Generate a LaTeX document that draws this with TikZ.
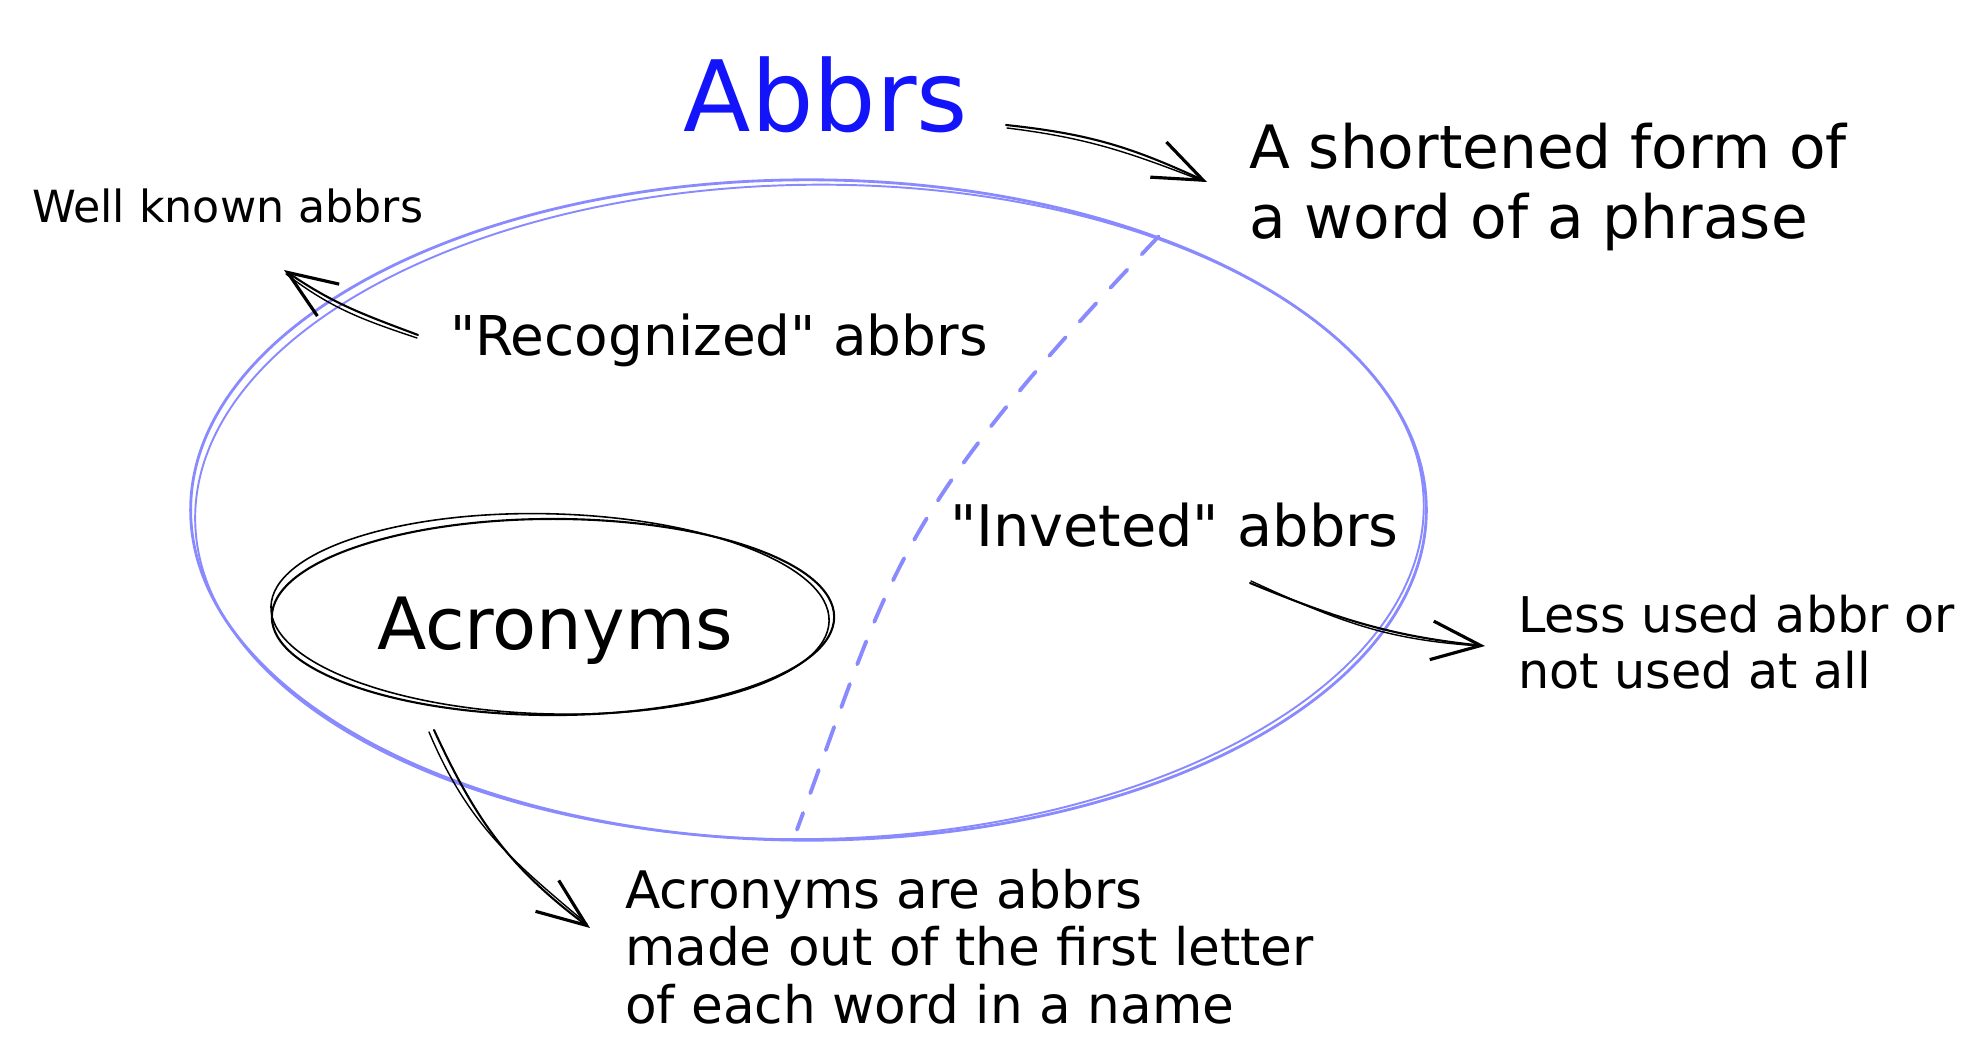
\documentclass[tikz,border=0pt]{standalone}
\usepackage{fontspec}
\setmainfont{DejaVu Sans}
\usetikzlibrary{arrows.meta,shapes.geometric,calc}
\definecolor{penblue}{RGB}{20,20,250}
\definecolor{lavender}{RGB}{138,138,255}
\begin{document}
\begin{tikzpicture}[x=0.01cm,y=-0.01cm,
  txt/.style={inner sep=0pt, outer sep=0pt, text=black},
  pen/.style={draw=black, line width=0.6pt, line cap=round, line join=round},
  pentwo/.style={draw=black, line width=0.4pt, line cap=round},
  barb/.style={-{Straight Barb[length=14pt,width=11pt,line width=0.9pt]}},
  ring/.style={draw=lavender, line width=0.8pt},
  ringtwo/.style={draw=lavender, line width=0.55pt},
  divider/.style={draw=lavender, line width=1.1pt, line cap=round, dash pattern=on 7pt off 6pt}
]
\useasboundingbox (0,0) rectangle (1982,1061);

% ---- outer set: all abbreviations ----
\node[ellipse, ring, minimum width=12.35cm, minimum height=6.6cm, inner sep=0pt] (big) at (808.5,510) {};
\draw[ringtwo, rotate around={0.8:(big.center)}] ($(big.center)+(1,2)$) ellipse [x radius=6.14cm, y radius=3.27cm];

% ---- inner set: acronyms ----
\node[ellipse, draw=black, line width=0.6pt, minimum width=5.62cm, minimum height=1.96cm, inner sep=0pt] (acro) at (553,617) {};
\draw[black, line width=0.45pt, rotate around={-1.5:(acro.center)}] ($(acro.center)+(-3,-3)$) ellipse [x radius=2.79cm, y radius=1.0cm];

% ---- texts ----
\node[txt, anchor=base, text=penblue, font=\fontsize{28}{34}\selectfont] (title) at (826,132) {Abbrs};
\node[txt, anchor=north west, align=left, font=\fontsize{17}{20}\selectfont] (defn) at (1249,123) {A shortened form of\\a word of a phrase};
\node[txt, anchor=base west, font=\fontsize{12.6}{15}\selectfont] (well) at (32,223) {Well known abbrs};
\node[txt, anchor=base west, font=\fontsize{15.6}{19}\selectfont] (recog) at (450,356) {\textquotedbl Recognized\textquotedbl{} abbrs};
\node[txt, anchor=base west, font=\fontsize{16.3}{19}\selectfont] (inv) at (950,546) {\textquotedbl Inveted\textquotedbl{} abbrs};
\node[txt, anchor=north west, align=left, font=\fontsize{14}{16}\selectfont] (less) at (1518,595) {Less used abbr or\\not used at all};
\node[txt, anchor=base, font=\fontsize{20.5}{24}\selectfont] (acrotext) at (555,649) {Acronyms};
\node[txt, anchor=north west, align=left, font=\fontsize{14.7}{16.4}\selectfont] (desc) at (625,869) {Acronyms are abbrs\\made out of the first letter\\of each word in a name};

% ---- dashed split between recognized and inveted ----
\draw[divider] (big.38) .. controls ($(big.38)+(-269,283)$) and ($(big.south)+(83.5,-269)$) .. ($(big.south)+(-11.5,-12)$);

% ---- arrows ----
% title -> definition
\draw[pen, barb] ($(title.base)+(180,-7)$) .. controls ($(title.base)+(264,2)$) and ($(defn.north west)+(-118,24)$) .. ($(defn.north west)+(-42,59)$);
\draw[pentwo] ($(title.base)+(181,-4)$) .. controls ($(title.base)+(262,6)$) and ($(defn.north west)+(-121,29)$) .. ($(defn.north west)+(-46,58)$);
% recognized -> well known
\draw[pen, barb] ($(recog.base west)+(-32,-21)$) .. controls ($(recog.base west)+(-88,-42)$) and ($(well.base west)+(302,81)$) .. ($(well.base west)+(252,47)$);
\draw[pentwo] ($(recog.base west)+(-33,-18)$) .. controls ($(recog.base west)+(-90,-37)$) and ($(well.base west)+(299,85)$) .. ($(well.base west)+(254,51)$);
% inveted -> less used
\draw[pen, barb] ($(inv.base west)+(300,37)$) .. controls ($(inv.base west)+(388,73)$) and ($(less.north west)+(-128,41)$) .. ($(less.north west)+(-33,51)$);
\draw[pentwo] ($(inv.base west)+(301,35)$) .. controls ($(inv.base west)+(392,77)$) and ($(less.north west)+(-130,45)$) .. ($(less.north west)+(-37,51)$);
% acronyms -> description
\draw[pen, barb] ($(acro.center)+(-119,113)$) .. controls ($(acro.center)+(-77,204)$) and ($(desc.north west)+(-115,-1)$) .. ($(desc.north west)+(-35,59)$);
\draw[pentwo] ($(acro.center)+(-124,115)$) .. controls ($(acro.center)+(-84,210)$) and ($(desc.north west)+(-110,-6)$) .. ($(desc.north west)+(-38,55)$);
\end{tikzpicture}
\end{document}
